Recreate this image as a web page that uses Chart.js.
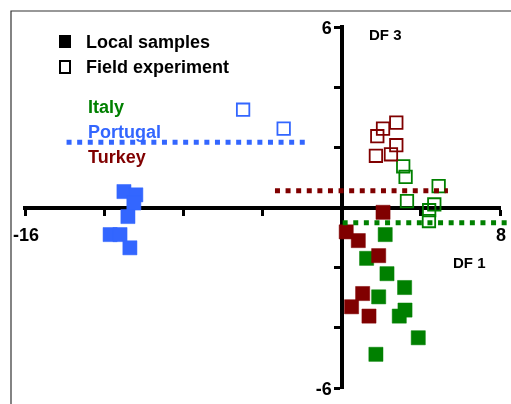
<!DOCTYPE html>
<html>
<head>
<meta charset="utf-8">
<script src="https://cdn.jsdelivr.net/npm/chart.js@4"></script>
<style>
  body { margin: 0; background: #fff; }
  #wrap { width: 511px; height: 404px; }
</style>
</head>
<body>
<div id="wrap"><canvas id="c" width="511" height="404"></canvas></div>
<script>

// DF1 / DF3 scores
let italyLocal = [
  {x: 2.2, y: -0.9}, {x: 1.26, y: -1.69}, {x: 2.29, y: -2.2}, {x: 3.18, y: -2.66},
  {x: 1.87, y: -2.97}, {x: 3.2, y: -3.41}, {x: 2.91, y: -3.61}, {x: 3.87, y: -4.33},
  {x: 1.73, y: -4.88}
];
let italyField = [
  {x: 3.11, y: 1.37}, {x: 3.23, y: 1.02}, {x: 4.9, y: 0.71}, {x: 3.3, y: 0.21},
  {x: 4.68, y: 0.1}, {x: 4.42, y: -0.09}, {x: 4.41, y: -0.45}
];
let portugalLocal = [
  {x: -11.0, y: 0.53}, {x: -10.4, y: 0.42}, {x: -10.5, y: 0.15}, {x: -10.8, y: -0.3},
  {x: -11.7, y: -0.9}, {x: -11.2, y: -0.9}, {x: -10.7, y: -1.34}
];
let portugalField = [
  {x: -4.98, y: 3.25}, {x: -2.93, y: 2.62}
];
let turkeyLocal = [
  {x: 2.09, y: -0.16}, {x: 0.23, y: -0.81}, {x: 0.84, y: -1.1}, {x: 1.87, y: -1.6},
  {x: 1.06, y: -2.86}, {x: 0.5, y: -3.3}, {x: 1.38, y: -3.61}
];
let turkeyField = [
  {x: 1.8, y: 2.37}, {x: 2.09, y: 2.62}, {x: 2.76, y: 2.82}, {x: 2.76, y: 2.07},
  {x: 1.73, y: 1.72}, {x: 2.49, y: 1.77}
];

// dotted reference lines
let portugalLine = [{x: -13.9, y: 2.17}, {x: -1.77, y: 2.17}];
let turkeyLine = [{x: -3.37, y: 0.56}, {x: 5.37, y: 0.56}];
let italyLine = [{x: 0.05, y: -0.51}, {x: 8.5, y: -0.51}];

let xLabelsShown = [-16, 8];
let yLabelsShown = [6, -6];

const GREEN = '#008000';
const BLUE = '#3366ff';
const RED = '#800000';
const FONT = '"Liberation Sans", Arial, sans-serif';

function filled(data, color) {
  return { data: data, pointStyle: 'rect', pointRadius: 10, pointHoverRadius: 10,
    backgroundColor: color, borderColor: color, borderWidth: 0.5 };
}
function hollow(data, color) {
  return { data: data, pointStyle: 'rect', pointRadius: 8.8, pointHoverRadius: 8.8,
    backgroundColor: 'rgba(0,0,0,0)', borderColor: color, borderWidth: 1.8 };
}
function dotted(data, color) {
  return { data: data, showLine: true, pointRadius: 0, borderColor: color,
    borderWidth: 5, borderDash: [5, 5.6], clip: false };
}

const overlay = {
  id: 'overlay',
  beforeDraw(chart) {
    const c = chart.ctx;
    c.save();
    c.strokeStyle = '#333';
    c.lineWidth = 1.2;
    c.beginPath();
    c.moveTo(11, 404);
    c.lineTo(11, 11);
    c.lineTo(511, 11);
    c.stroke();
    c.restore();
  },
  afterDraw(chart) {
    const c = chart.ctx;
    const xs = chart.scales.x, ys = chart.scales.y;
    const x0 = xs.getPixelForValue(0), y0 = ys.getPixelForValue(0);
    c.save();
    c.fillStyle = '#000';
    c.font = 'bold 18px ' + FONT;
    // tick labels next to the centred axes
    c.textAlign = 'center';
    xLabelsShown.forEach(v => c.fillText(String(v), xs.getPixelForValue(v) + 1, y0 + 33));
    c.textAlign = 'right';
    yLabelsShown.forEach(v => c.fillText(String(v), x0 - 10, ys.getPixelForValue(v) + 6.5));
    c.textAlign = 'left';
    // legend
    c.fillRect(59, 35, 12, 13);
    c.strokeStyle = '#000';
    c.lineWidth = 2;
    c.strokeRect(60, 61, 10, 12);
    c.fillText('Local samples', 86, 48);
    c.fillText('Field experiment', 86, 73);
    c.fillStyle = GREEN;
    c.fillText('Italy', 88, 113);
    c.fillStyle = BLUE;
    c.fillText('Portugal', 88, 138);
    c.fillStyle = RED;
    c.fillText('Turkey', 88, 163);
    c.fillStyle = '#000';
    c.font = 'bold 15px ' + FONT;
    c.fillText('DF 3', 369, 40);
    c.fillText('DF 1', 453, 268);
    c.restore();
  }
};

new Chart(document.getElementById('c'), {
  type: 'scatter',
  data: {
    datasets: [
      dotted(portugalLine, BLUE),
      dotted(turkeyLine, RED),
      dotted(italyLine, GREEN),
      filled(portugalLocal, BLUE),
      filled(turkeyLocal, RED),
      filled(italyLocal, GREEN),
      hollow(portugalField, BLUE),
      hollow(turkeyField, RED),
      hollow(italyField, GREEN)
    ]
  },
  options: {
    responsive: false,
    animation: false,
    layout: { padding: { left: 25, right: 11, top: 27, bottom: 16 } },
    plugins: { legend: { display: false }, tooltip: { enabled: false } },
    scales: {
      x: {
        type: 'linear',
        min: -16, max: 8,
        position: { y: 0 },
        border: { color: '#000', width: 4 },
        grid: { drawOnChartArea: false, color: '#000', tickLength: 6, tickWidth: 3 },
        ticks: { stepSize: 4, display: false }
      },
      y: {
        type: 'linear',
        min: -6, max: 6,
        position: { x: 0 },
        border: { color: '#000', width: 4 },
        grid: { drawOnChartArea: false, color: '#000', tickLength: 6, tickWidth: 3 },
        ticks: { stepSize: 2, display: false }
      }
    }
  },
  plugins: [overlay]
});
</script>
</body>
</html>
